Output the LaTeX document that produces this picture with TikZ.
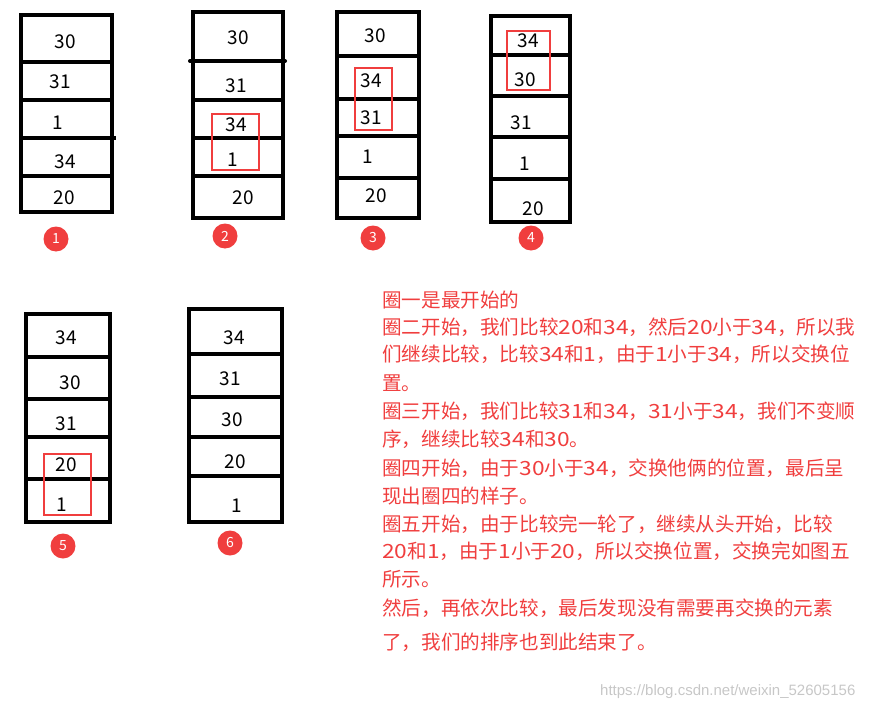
\documentclass[tikz,border=0pt]{standalone}
\usepackage{fontspec}
\newfontfamily\cjk{Noto Sans CJK SC}
\newfontfamily\cjkwide[FakeStretch=1.16]{Noto Sans CJK SC}
\newcommand\dg[1]{{\cjkwide #1}}
\setmainfont{Liberation Sans}
\definecolor{cred}{RGB}{240,62,62}
\begin{document}
\begin{tikzpicture}[x=1pt,y=-1pt,
 frame/.style={line width=4pt},
 num/.style={font=\cjk\fontsize{19}{19}\selectfont, inner sep=0pt},
 hbox/.style={draw=cred, line width=2.2pt},
 badge/.style={circle, fill=cred, minimum size=25pt, inner sep=0pt, text=white, font=\cjk\fontsize{14}{14}\selectfont},
 expl/.style={anchor=base west, inner sep=0pt, text=cred, font=\cjk\fontsize{19.6}{20}\selectfont}]
\useasboundingbox (0,0) rectangle (881,709);
% stack 1
\draw[frame] (21,15) rectangle (112,212);
\draw[frame] (21,62) -- (112,62) (21,100) -- (112,100) (21,138) -- (116,138) (21,176) -- (112,176);
\node[num] (a1) at (65,42) {30};
\node[num] (a2) at (60,82) {31};
\node[num] (a3) at (58,123) {1};
\node[num] (a4) at (65,162) {34};
\node[num] (a5) at (64,198) {20};
\node[badge] (b1) at (56,239) {1};
% stack 2
\draw[frame] (193,12) rectangle (283,218);
\draw[frame,line cap=round] (190,61) -- (285,61);
\draw[frame] (193,100) -- (283,100) (193,138) -- (283,138) (193,176) -- (283,176);
\node[num] (c1) at (238,38) {30};
\node[num] (c2) at (236,86) {31};
\node[num] (c3) at (236,125) {34};
\node[num] (c4) at (233,160) {1};
\node[num] (c5) at (243,198) {20};
\draw[hbox] (212,114) rectangle (259,170);
\node[badge] (b2) at (225,236) {2};
% stack 3
\draw[frame] (337,12) rectangle (419,218);
\draw[frame] (337,56) -- (419,56) (337,99) -- (419,99) (337,136) -- (421,136) (337,178) -- (421,178);
\node[num] (d1) at (375,36) {30};
\node[num] (d2) at (371,81) {34};
\node[num] (d3) at (371,118) {31};
\node[num] (d4) at (368,157) {1};
\node[num] (d5) at (376,196) {20};
\draw[hbox] (355,68) rectangle (392,130);
\node[badge] (b3) at (373,238) {3};
% stack 4
\draw[frame] (491,16) rectangle (570,222);
\draw[frame] (491,55) -- (572,55) (489,96) -- (570,96) (491,137) -- (570,137) (489,179) -- (570,179);
\node[num] (e1) at (528,41) {34};
\node[num] (e2) at (525,80) {30};
\node[num] (e3) at (521,123) {31};
\node[num] (e4) at (525,164) {1};
\node[num] (e5) at (533,209) {20};
\draw[hbox] (507,31) rectangle (550,90);
\node[badge] (b4) at (531,238) {4};
% stack 5
\draw[frame] (26,314) rectangle (110,522);
\draw[frame] (26,357) -- (110,357) (26,399) -- (110,399) (26,437) -- (110,437) (24,479) -- (110,479);
\node[num] (f1) at (66,338) {34};
\node[num] (f2) at (70,383) {30};
\node[num] (f3) at (66,424) {31};
\node[num] (f4) at (66,465) {20};
\node[num] (f5) at (62,505) {1};
\draw[hbox] (44,454) rectangle (91,515);
\node[badge] (b5) at (63,546) {5};
% stack 6
\draw[frame] (189,309) rectangle (282,522);
\draw[frame] (189,354) -- (282,354) (189,397) -- (282,397) (189,437) -- (282,437) (189,476) -- (282,476);
\node[num] (g1) at (234,338) {34};
\node[num] (g2) at (230,379) {31};
\node[num] (g3) at (232,420) {30};
\node[num] (g4) at (235,462) {20};
\node[num] (g5) at (237,506) {1};
\node[badge] (b6) at (230,543) {6};
% explanation
\node[expl] (t1) at (382,307.5) {圈一是最开始的};
\node[expl] (t2) at (382,334.5) {圈二开始，我们比较\dg{20}和\dg{34}，然后\dg{20}小于\dg{34}，所以我};
\node[expl] (t3) at (382,361.5) {们继续比较，比较\dg{34}和\dg{1}，由于\dg{1}小于\dg{34}，所以交换位};
\node[expl] (t4) at (382,390.5) {置。};
\node[expl] (t5) at (382,418.5) {圈三开始，我们比较\dg{31}和\dg{34}，\dg{31}小于\dg{34}，我们不变顺};
\node[expl] (t6) at (382,446.5) {序，继续比较\dg{34}和\dg{30}。};
\node[expl] (t7) at (382,475.5) {圈四开始，由于\dg{30}小于\dg{34}，交换他俩的位置，最后呈};
\node[expl] (t8) at (382,503.5) {现出圈四的样子。};
\node[expl] (t9) at (382,531.5) {圈五开始，由于比较完一轮了，继续从头开始，比较};
\node[expl] (t10) at (382,558.5) {\dg{20}和\dg{1}，由于\dg{1}小于\dg{20}，所以交换位置，交换完如图五};
\node[expl] (t11) at (382,586.5) {所示。};
\node[expl] (t12) at (382,615.5) {然后，再依次比较，最后发现没有需要再交换的元素};
\node[expl] (t13) at (382,649.5) {了，我们的排序也到此结束了。};
\node[anchor=base west, inner sep=0pt, text=black!22, font=\fontsize{15}{15}\selectfont] (wm) at (600,695) {https://blog.csdn.net/weixin\_52605156};
\end{tikzpicture}
\end{document}
